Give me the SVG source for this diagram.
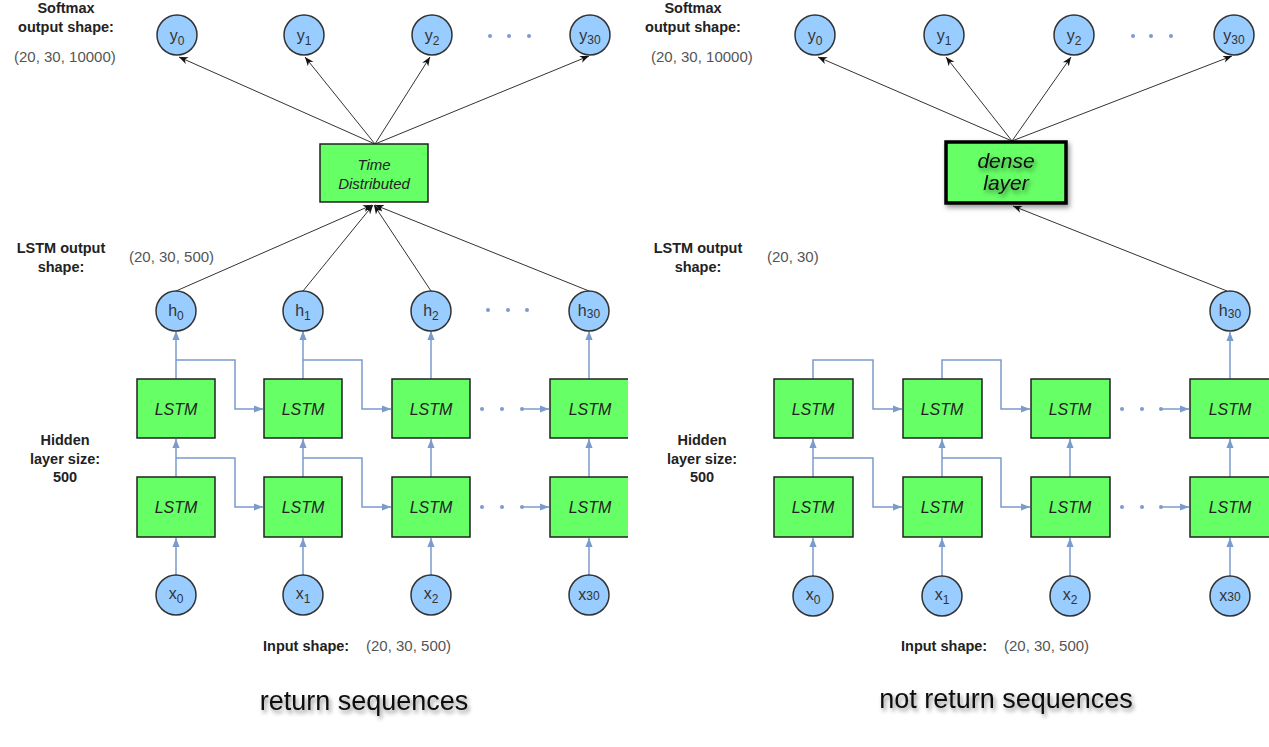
<svg xmlns="http://www.w3.org/2000/svg" width="1269" height="747" viewBox="0 0 1269 747">
<defs>
<style>
text{font-family:"Liberation Sans",Arial,sans-serif}
.lb{font-size:14.5px;font-weight:bold;fill:#222;text-anchor:middle}
.gr{font-size:15px;fill:#555}
.ct{font-size:16px;fill:#333;text-anchor:middle}
.sub{font-size:12px}
.lstm{fill:#66ff66;stroke:#222;stroke-width:1.5}
.lt{font-size:16px;font-style:italic;fill:#222;text-anchor:middle}
.nd{fill:#99ccff;stroke:#333;stroke-width:1.5}
.bc{fill:none;stroke:#7b9bcc;stroke-width:1.5}
.bca{fill:none;stroke:#7b9bcc;stroke-width:1.5;marker-end:url(#ab)}
.kc{fill:none;stroke:#333;stroke-width:1;marker-end:url(#ak)}
.dot{fill:#7b9bcc}
.big{font-size:27px;fill:#111;text-anchor:middle;filter:url(#sh)}
</style>
<marker id="ab" viewBox="0 0 10 10" refX="10" refY="5" markerWidth="9" markerHeight="9" markerUnits="userSpaceOnUse" orient="auto"><path d="M0,1 L10,5 L0,9 z" fill="#7b9bcc"/></marker>
<marker id="ak" viewBox="0 0 10 10" refX="10" refY="5" markerWidth="9" markerHeight="9" markerUnits="userSpaceOnUse" orient="auto"><path d="M0,1 L10,5 L0,9 L3,5 z" fill="#111"/></marker>
<filter id="sh" x="-20%" y="-30%" width="140%" height="180%"><feDropShadow dx="2" dy="3" stdDeviation="2" flood-color="#000" flood-opacity="0.45"/></filter>
<filter id="bsh" x="-20%" y="-20%" width="140%" height="150%"><feDropShadow dx="2" dy="3" stdDeviation="2.5" flood-color="#000" flood-opacity="0.4"/></filter>
</defs>
<rect width="1269" height="747" fill="#fff"/>

<!-- ========== LEFT PANEL ========== -->
<g id="left-labels">
<text class="lb" x="66" y="13">Softmax</text>
<text class="lb" x="66" y="32">output shape:</text>
<text class="gr" x="14" y="62">(20, 30, 10000)</text>
<text class="lb" x="61" y="253">LSTM output</text>
<text class="lb" x="61" y="272">shape:</text>
<text class="gr" x="129" y="262">(20, 30, 500)</text>
<text class="lb" x="65" y="445">Hidden</text>
<text class="lb" x="65" y="464">layer size:</text>
<text class="lb" x="65" y="482">500</text>
<text class="lb" x="263" y="651" style="text-anchor:start">Input shape:</text>
<text class="gr" x="366" y="651">(20, 30, 500)</text>
<text class="big" x="364" y="710">return sequences</text>
</g>

<g id="left-connectors">
<path class="kc" d="M375,144 L179,57"/>
<path class="kc" d="M375,144 L305,57"/>
<path class="kc" d="M375,144 L430,57"/>
<path class="kc" d="M375,144 L589,56"/>
<path class="kc" d="M176,291 L372,205"/>
<path class="kc" d="M303,291 L373,205"/>
<path class="kc" d="M431,291 L374,205"/>
<path class="kc" d="M589,291 L375,205"/>
<path class="bca" d="M176,379 V331"/>
<path class="bca" d="M303,379 V331"/>
<path class="bca" d="M431,379 V331"/>
<path class="bca" d="M589,379 V331"/>
<path class="bca" d="M176,360 H235 V409 H263"/>
<path class="bca" d="M303,360 H362 V409 H391"/>
<path class="bca" d="M176,477 V439"/>
<path class="bca" d="M303,477 V439"/>
<path class="bca" d="M431,477 V439"/>
<path class="bca" d="M589,477 V439"/>
<path class="bca" d="M176,458 H235 V507 H263"/>
<path class="bca" d="M303,458 H362 V507 H391"/>
<path class="bca" d="M176,576 V538"/>
<path class="bca" d="M303,576 V538"/>
<path class="bca" d="M431,576 V538"/>
<path class="bca" d="M589,576 V538"/>
<path class="bca" d="M522,409 H549"/>
<path class="bca" d="M522,507 H549"/>
<circle class="dot" cx="482" cy="409" r="2"/><circle class="dot" cx="502" cy="409" r="2"/><circle class="dot" cx="522" cy="409" r="2"/>
<circle class="dot" cx="482" cy="507" r="2"/><circle class="dot" cx="502" cy="507" r="2"/><circle class="dot" cx="522" cy="507" r="2"/>
<circle class="dot" cx="488" cy="310" r="2"/><circle class="dot" cx="508" cy="310" r="2"/><circle class="dot" cx="527" cy="310" r="2"/>
<circle class="dot" cx="490" cy="36" r="2"/><circle class="dot" cx="509" cy="36" r="2"/><circle class="dot" cx="529" cy="36" r="2"/>
</g>

<g id="L-y0"><circle class="nd" cx="177" cy="35" r="20"/><text class="ct" x="177" y="41">y<tspan class="sub" dy="4">0</tspan></text></g>
<g id="L-y1"><circle class="nd" cx="304" cy="35" r="20"/><text class="ct" x="304" y="41">y<tspan class="sub" dy="4">1</tspan></text></g>
<g id="L-y2"><circle class="nd" cx="432" cy="35" r="20"/><text class="ct" x="432" y="41">y<tspan class="sub" dy="4">2</tspan></text></g>
<g id="L-y30"><circle class="nd" cx="590" cy="35" r="20"/><text class="ct" x="590" y="41">y<tspan class="sub" dy="3">30</tspan></text></g>

<g id="L-td"><rect class="lstm" x="320" y="144" width="108" height="58"/><text class="lt" x="374" y="170" style="font-size:15px">Time</text><text class="lt" x="374" y="189" style="font-size:15px">Distributed</text></g>

<g id="L-h0"><circle class="nd" cx="176" cy="311" r="20"/><text class="ct" x="176" y="316">h<tspan class="sub" dy="4">0</tspan></text></g>
<g id="L-h1"><circle class="nd" cx="303" cy="311" r="20"/><text class="ct" x="303" y="316">h<tspan class="sub" dy="4">1</tspan></text></g>
<g id="L-h2"><circle class="nd" cx="431" cy="311" r="20"/><text class="ct" x="431" y="316">h<tspan class="sub" dy="4">2</tspan></text></g>
<g id="L-h30"><circle class="nd" cx="589" cy="311" r="20"/><text class="ct" x="589" y="316">h<tspan class="sub" dy="2">30</tspan></text></g>

<g id="L-u1"><rect class="lstm" x="137" y="379" width="78" height="59"/><text class="lt" x="176" y="415">LSTM</text></g>
<g id="L-u2"><rect class="lstm" x="264" y="379" width="78" height="59"/><text class="lt" x="303" y="415">LSTM</text></g>
<g id="L-u3"><rect class="lstm" x="392" y="379" width="78" height="59"/><text class="lt" x="431" y="415">LSTM</text></g>
<g id="L-u4"><path d="M550,379 H628 V438 H550 Z" fill="#66ff66"/><path d="M628,379 H550 V438 H628" fill="none" stroke="#222" stroke-width="1.5"/><text class="lt" x="590" y="415">LSTM</text></g>
<g id="L-l1"><rect class="lstm" x="137" y="477" width="78" height="60"/><text class="lt" x="176" y="513">LSTM</text></g>
<g id="L-l2"><rect class="lstm" x="264" y="477" width="78" height="60"/><text class="lt" x="303" y="513">LSTM</text></g>
<g id="L-l3"><rect class="lstm" x="392" y="477" width="78" height="60"/><text class="lt" x="431" y="513">LSTM</text></g>
<g id="L-l4"><path d="M550,477 H628 V537 H550 Z" fill="#66ff66"/><path d="M628,477 H550 V537 H628" fill="none" stroke="#222" stroke-width="1.5"/><text class="lt" x="590" y="513">LSTM</text></g>

<g id="L-x0"><circle class="nd" cx="176" cy="595" r="20"/><text class="ct" x="176" y="599">x<tspan class="sub" dy="4">0</tspan></text></g>
<g id="L-x1"><circle class="nd" cx="303" cy="595" r="20"/><text class="ct" x="303" y="599">x<tspan class="sub" dy="4">1</tspan></text></g>
<g id="L-x2"><circle class="nd" cx="431" cy="595" r="20"/><text class="ct" x="431" y="599">x<tspan class="sub" dy="4">2</tspan></text></g>
<g id="L-x30"><circle class="nd" cx="589" cy="595" r="20"/><text class="ct" x="589" y="600">x<tspan class="sub" dy="0">30</tspan></text></g>

<!-- ========== RIGHT PANEL ========== -->
<g id="right-labels">
<text class="lb" x="693" y="13">Softmax</text>
<text class="lb" x="693" y="32">output shape:</text>
<text class="gr" x="651" y="62">(20, 30, 10000)</text>
<text class="lb" x="698" y="253">LSTM output</text>
<text class="lb" x="698" y="272">shape:</text>
<text class="gr" x="767" y="262">(20, 30)</text>
<text class="lb" x="702" y="445">Hidden</text>
<text class="lb" x="702" y="464">layer size:</text>
<text class="lb" x="702" y="482">500</text>
<text class="lb" x="901" y="651" style="text-anchor:start">Input shape:</text>
<text class="gr" x="1004" y="651">(20, 30, 500)</text>
<text class="big" x="1006" y="708">not return sequences</text>
</g>

<g id="right-connectors">
<path class="kc" d="M1012,141 L818,57"/>
<path class="kc" d="M1012,141 L946,57"/>
<path class="kc" d="M1012,141 L1071,57"/>
<path class="kc" d="M1012,141 L1232,56"/>
<path class="kc" d="M1227,291 L1013,206"/>
<path class="bca" d="M1230,379 V332"/>
<path class="bca" d="M813,379 V360 H873 V409 H902"/>
<path class="bca" d="M942,379 V360 H1001 V409 H1030"/>
<path class="bca" d="M813,477 V439"/>
<path class="bca" d="M942,477 V439"/>
<path class="bca" d="M1070,477 V439"/>
<path class="bca" d="M1230,477 V439"/>
<path class="bca" d="M813,458 H873 V507 H902"/>
<path class="bca" d="M942,458 H1001 V507 H1030"/>
<path class="bca" d="M813,576 V538"/>
<path class="bca" d="M942,576 V538"/>
<path class="bca" d="M1070,576 V538"/>
<path class="bca" d="M1230,576 V538"/>
<path class="bca" d="M1161,409 H1189"/>
<path class="bca" d="M1161,507 H1189"/>
<circle class="dot" cx="1122" cy="409" r="2"/><circle class="dot" cx="1142" cy="409" r="2"/><circle class="dot" cx="1161" cy="409" r="2"/>
<circle class="dot" cx="1122" cy="507" r="2"/><circle class="dot" cx="1142" cy="507" r="2"/><circle class="dot" cx="1161" cy="507" r="2"/>
<circle class="dot" cx="1133" cy="36" r="2"/><circle class="dot" cx="1151" cy="36" r="2"/><circle class="dot" cx="1171" cy="36" r="2"/>
</g>

<g id="R-y0"><circle class="nd" cx="815" cy="35" r="20"/><text class="ct" x="815" y="41">y<tspan class="sub" dy="4">0</tspan></text></g>
<g id="R-y1"><circle class="nd" cx="944" cy="35" r="20"/><text class="ct" x="944" y="41">y<tspan class="sub" dy="4">1</tspan></text></g>
<g id="R-y2"><circle class="nd" cx="1074" cy="35" r="20"/><text class="ct" x="1074" y="41">y<tspan class="sub" dy="4">2</tspan></text></g>
<g id="R-y30"><circle class="nd" cx="1234" cy="35" r="20"/><text class="ct" x="1234" y="41">y<tspan class="sub" dy="3">30</tspan></text></g>

<g id="R-dense"><rect x="946" y="142" width="120" height="61" fill="#66ff66" stroke="#000" stroke-width="3.5" filter="url(#bsh)"/><text class="lt" x="1006" y="168" style="font-size:21px;fill:#111;filter:url(#sh)">dense</text><text class="lt" x="1006" y="190" style="font-size:21px;fill:#111;filter:url(#sh)">layer</text></g>

<g id="R-h30"><circle class="nd" cx="1230" cy="311" r="20"/><text class="ct" x="1230" y="316">h<tspan class="sub" dy="2">30</tspan></text></g>

<g id="R-u1"><rect class="lstm" x="774" y="379" width="79" height="59"/><text class="lt" x="813" y="415">LSTM</text></g>
<g id="R-u2"><rect class="lstm" x="903" y="379" width="79" height="59"/><text class="lt" x="942" y="415">LSTM</text></g>
<g id="R-u3"><rect class="lstm" x="1031" y="379" width="79" height="59"/><text class="lt" x="1070" y="415">LSTM</text></g>
<g id="R-u4"><rect class="lstm" x="1190" y="379" width="82" height="59"/><text class="lt" x="1230" y="415">LSTM</text></g>
<g id="R-l1"><rect class="lstm" x="774" y="477" width="79" height="60"/><text class="lt" x="813" y="513">LSTM</text></g>
<g id="R-l2"><rect class="lstm" x="903" y="477" width="79" height="60"/><text class="lt" x="942" y="513">LSTM</text></g>
<g id="R-l3"><rect class="lstm" x="1031" y="477" width="79" height="60"/><text class="lt" x="1070" y="513">LSTM</text></g>
<g id="R-l4"><rect class="lstm" x="1190" y="477" width="82" height="60"/><text class="lt" x="1230" y="513">LSTM</text></g>

<g id="R-x0"><circle class="nd" cx="813" cy="596" r="20"/><text class="ct" x="813" y="600">x<tspan class="sub" dy="4">0</tspan></text></g>
<g id="R-x1"><circle class="nd" cx="942" cy="596" r="20"/><text class="ct" x="942" y="600">x<tspan class="sub" dy="4">1</tspan></text></g>
<g id="R-x2"><circle class="nd" cx="1070" cy="596" r="20"/><text class="ct" x="1070" y="600">x<tspan class="sub" dy="4">2</tspan></text></g>
<g id="R-x30"><circle class="nd" cx="1230" cy="596" r="20"/><text class="ct" x="1230" y="601">x<tspan class="sub" dy="0">30</tspan></text></g>
</svg>
